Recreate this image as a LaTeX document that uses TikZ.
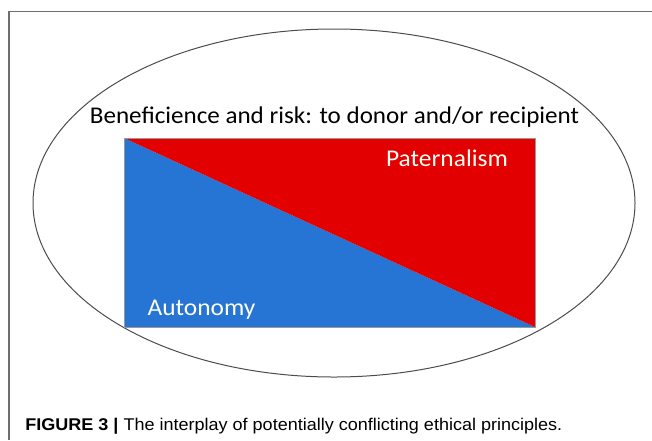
\documentclass[tikz,border=0pt]{standalone}
\usepackage{fontspec}
\setmainfont{Carlito}
\newfontfamily\capfont{Liberation Sans}

\definecolor{patred}{RGB}{226,0,0}
\definecolor{autblue}{RGB}{38,116,212}
\definecolor{framegray}{RGB}{110,110,110}

\newcommand{\wide}[1]{\scalebox{1.06}[1]{#1}}

\tikzset{every picture/.style={line width=0.75pt}}
\tikzset{bigtext/.style={font=\fontsize{24}{28}\selectfont, inner sep=0pt, anchor=base}}

\begin{document}
\begin{tikzpicture}[x=1pt,y=1pt,yscale=-1,xscale=1]
\useasboundingbox (0,0) rectangle (652,440);

%Straight Lines: frame top and left
\draw [framegray, line width=1.2pt] (652,11.5) -- (9,11.5) -- (9,440) ;

%Shape: Ellipse
\draw [black!70, line width=1pt] (334,203) ellipse (301 and 174) ;

%Shape: Rectangle, lower triangle
\fill [autblue] (124,138) -- (535,327) -- (124,327) -- cycle ;
%Shape: Rectangle, upper triangle
\fill [patred] (124,138) -- (535,138) -- (535,327) -- cycle ;
\draw [black!40, line width=0.6pt] (124,138) rectangle (535,327) ;

% Text Node
\node [bigtext] (title) at (334.5,123) {\scalebox{1.045}[1]{Beneficience and risk: to donor and/or recipient}};
% Text Node
\node [bigtext, white!95!yellow] (pat) at (447,166) {\wide{Paternalism}};
% Text Node
\node [bigtext, white!95!yellow] (aut) at (201.5,315) {\wide{Autonomy}};
% Text Node
\node [anchor=base west, inner sep=0pt] (cap) at (25,430) {\capfont\fontsize{17}{20}\selectfont \scalebox{1.06}[1]{\textbf{FIGURE 3 |} The interplay of potentially conflicting ethical principles.}};

\end{tikzpicture}
\end{document}
